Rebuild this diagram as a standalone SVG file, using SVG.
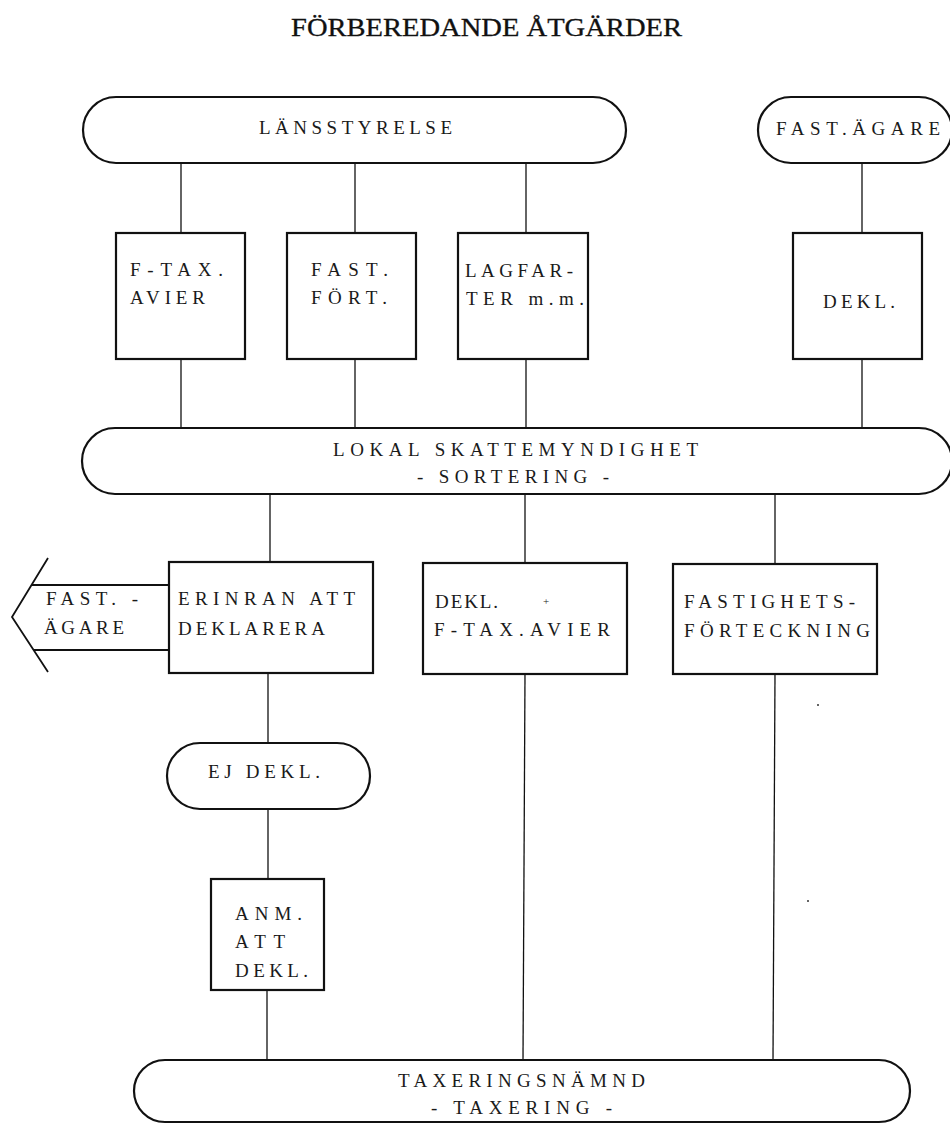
<svg xmlns="http://www.w3.org/2000/svg" width="950" height="1124" viewBox="0 0 950 1124">
<style>
.bg{fill:#ffffff}
.shape{fill:#ffffff;stroke:#111111;stroke-width:2.2}
.conn{stroke:#111111;stroke-width:1.3;fill:none}
.arrow{stroke:#111111;stroke-width:1.8;fill:none}
.t{font-family:"Liberation Serif","Times New Roman",serif;font-size:19px;fill:#1a1a1a}
.title{font-family:"Liberation Serif","Times New Roman",serif;font-size:25px;fill:#111111;stroke:#111111;stroke-width:0.3}
</style>
<rect class="bg" x="0" y="0" width="950" height="1124"/>
<text class="title" x="291" y="36" textLength="391" lengthAdjust="spacingAndGlyphs">FÖRBEREDANDE ÅTGÄRDER</text>

<g id="connectors">
<line class="conn" x1="181" y1="163" x2="181" y2="233"/>
<line class="conn" x1="181" y1="359" x2="181" y2="428"/>
<line class="conn" x1="355" y1="163" x2="355" y2="233"/>
<line class="conn" x1="355" y1="359" x2="355" y2="428"/>
<line class="conn" x1="526" y1="163" x2="526" y2="233"/>
<line class="conn" x1="526" y1="359" x2="526" y2="428"/>
<line class="conn" x1="862" y1="163" x2="862" y2="233"/>
<line class="conn" x1="862" y1="359" x2="862" y2="428"/>
<line class="conn" x1="270" y1="494" x2="270" y2="562"/>
<line class="conn" x1="268" y1="673" x2="268" y2="743"/>
<line class="conn" x1="268" y1="809" x2="268" y2="879"/>
<line class="conn" x1="267" y1="990" x2="267" y2="1060"/>
<line class="conn" x1="525" y1="494" x2="525" y2="563"/>
<line class="conn" x1="525" y1="674" x2="523" y2="1060"/>
<line class="conn" x1="775" y1="494" x2="775" y2="564"/>
<line class="conn" x1="775" y1="674" x2="773" y2="1060"/>
</g>

<g id="arrow-fast-agare">
<line class="arrow" x1="32" y1="585" x2="169" y2="585"/>
<line class="arrow" x1="34" y1="650" x2="169" y2="650"/>
<polyline class="arrow" points="48,558 12,617 48,672"/>
<text class="t" x="46" y="605" textLength="92" lengthAdjust="spacing">FAST. -</text>
<text class="t" x="44" y="634" textLength="80" lengthAdjust="spacing">ÄGARE</text>
</g>

<g id="lansstyrelse">
<rect class="shape" x="83" y="97" width="543" height="66" rx="33" ry="33"/>
<text class="t" x="259" y="134" textLength="193" lengthAdjust="spacing">LÄNSSTYRELSE</text>
</g>

<g id="fast-agare">
<rect class="shape" x="758" y="97" width="194" height="66" rx="33" ry="33"/>
<text class="t" x="776" y="135" textLength="164" lengthAdjust="spacing">FAST.ÄGARE</text>
</g>

<g id="ftax-avier">
<rect class="shape" x="116" y="233" width="129" height="126"/>
<text class="t" x="130" y="276" textLength="93" lengthAdjust="spacing">F-TAX.</text>
<text class="t" x="130" y="304" textLength="75" lengthAdjust="spacing">AVIER</text>
</g>

<g id="fast-fort">
<rect class="shape" x="287" y="233" width="129" height="126"/>
<text class="t" x="311" y="276" textLength="77" lengthAdjust="spacing">FAST.</text>
<text class="t" x="311" y="304" textLength="76" lengthAdjust="spacing">FÖRT.</text>
</g>

<g id="lagfarter">
<rect class="shape" x="458" y="233" width="130" height="126"/>
<text class="t" x="465" y="277" textLength="108" lengthAdjust="spacing">LAGFAR-</text>
<text class="t" x="466" y="305" textLength="118" lengthAdjust="spacing">TER m.m.</text>
</g>

<g id="dekl-top">
<rect class="shape" x="793" y="233" width="129" height="126"/>
<text class="t" x="823" y="308" textLength="72" lengthAdjust="spacing">DEKL.</text>
</g>

<g id="lokal-skattemyndighet">
<rect class="shape" x="82" y="428" width="870" height="66" rx="33" ry="33"/>
<text class="t" x="333" y="456" textLength="365" lengthAdjust="spacing">LOKAL SKATTEMYNDIGHET</text>
<text class="t" x="417" y="483" textLength="192" lengthAdjust="spacing">- SORTERING -</text>
</g>

<g id="erinran">
<rect class="shape" x="169" y="562" width="204" height="111"/>
<text class="t" x="178" y="605" textLength="177" lengthAdjust="spacing">ERINRAN ATT</text>
<text class="t" x="178" y="635" textLength="147" lengthAdjust="spacing">DEKLARERA</text>
</g>

<g id="dekl-ftax">
<rect class="shape" x="423" y="563" width="204" height="111"/>
<text class="t" x="435" y="608" textLength="63" lengthAdjust="spacing">DEKL.</text>
<text class="t" x="543" y="605" style="font-size:11px">+</text>
<text class="t" x="434" y="636" textLength="176" lengthAdjust="spacing">F-TAX.AVIER</text>
</g>

<g id="fastighetsforteckning">
<rect class="shape" x="673" y="564" width="204" height="110"/>
<text class="t" x="684" y="608" textLength="171" lengthAdjust="spacing">FASTIGHETS-</text>
<text class="t" x="684" y="637" textLength="186" lengthAdjust="spacing">FÖRTECKNING</text>
</g>

<g id="ej-dekl">
<rect class="shape" x="167" y="743" width="203" height="66" rx="33" ry="33"/>
<text class="t" x="208" y="778" textLength="112" lengthAdjust="spacing">EJ DEKL.</text>
</g>

<g id="anm-att-dekl">
<rect class="shape" x="211" y="879" width="113" height="111"/>
<text class="t" x="235" y="920" textLength="67" lengthAdjust="spacing">ANM.</text>
<text class="t" x="235" y="948" textLength="50" lengthAdjust="spacing">ATT</text>
<text class="t" x="235" y="977" textLength="73" lengthAdjust="spacing">DEKL.</text>
</g>

<g id="taxeringsnamnd">
<rect class="shape" x="134" y="1060" width="776" height="62" rx="31" ry="31"/>
<text class="t" x="398" y="1087" textLength="247" lengthAdjust="spacing">TAXERINGSNÄMND</text>
<text class="t" x="431" y="1114" textLength="181" lengthAdjust="spacing">- TAXERING -</text>
</g>

<circle cx="818" cy="705" r="1" fill="#333333"/>
<circle cx="808" cy="901" r="1" fill="#333333"/>
</svg>
